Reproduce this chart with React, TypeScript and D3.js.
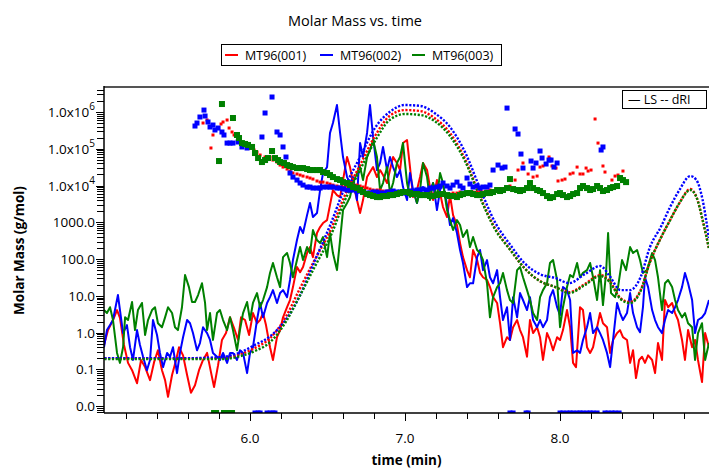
import React from 'react';
import * as d3 from 'd3';

const WIDTH = 709;
const HEIGHT = 470;
const PLOT = { left: 104, right: 709, top: 88, bottom: 413 };
const FONT = "'Open Sans', 'Noto Sans', sans-serif";

const TITLE = 'Molar Mass vs. time';
const X_LABEL = 'time (min)';
const Y_LABEL = 'Molar Mass (g/mol)';
const SERIES_NAMES = ['MT96(001)', 'MT96(002)', 'MT96(003)'];
const SERIES_COLORS = ['#ff0000', '#0000ff', '#008000'];
const MARKER_SIZES = [3, 5, 6];
const X_DOMAIN = [5.058, 8.961];
const Y_DOMAIN = [0.0065, 4.5e6];
const X_MAJOR_TICKS = [6.0, 7.0, 8.0];
const X_MINOR_TICKS = [5.2, 5.4, 5.6, 5.8, 6.2, 6.4, 6.6, 6.8, 7.2, 7.4, 7.6, 7.8, 8.2, 8.4, 8.6, 8.8];
const Y_MAJOR_TICKS = [0.01, 0.1, 1, 10, 100, 1000, 1e4, 1e5, 1e6];
const Y_TICK_TEXT = ['0.0', '0.1', '1.0', '10.0', '100.0', '1000.0', '1.0x10', '1.0x10', '1.0x10'];
const Y_TICK_EXP = ['', '', '', '', '', '', '4', '5', '6'];

// ---- LS (light scattering) traces ----
const lsTime001 = [5.058,5.084,5.116,5.142,5.161,5.187,5.213,5.239,5.271,5.297,5.323,5.355,5.381,5.406,5.432,5.452,5.471,5.497,5.523,5.542,5.568,5.594,5.619,5.645,5.671,5.697,5.723,5.748,5.768,5.794,5.819,5.845,5.871,5.897,5.923,5.942,5.968,5.994,6.019,6.045,6.065,6.084,6.103,6.129,6.148,6.174,6.194,6.213,6.239,6.258,6.277,6.303,6.323,6.342,6.368,6.387,6.406,6.432,6.452,6.471,6.497,6.516,6.535,6.561,6.581,6.600,6.626,6.645,6.665,6.690,6.710,6.729,6.755,6.774,6.794,6.819,6.839,6.858,6.884,6.903,6.923,6.948,6.968,6.987,7.013,7.032,7.052,7.077,7.097,7.116,7.142,7.161,7.181,7.206,7.226,7.245,7.271,7.290,7.310,7.335,7.355,7.374,7.400,7.419,7.439,7.465,7.484,7.503,7.529,7.548,7.568,7.594,7.613,7.632,7.658,7.677,7.697,7.723,7.742,7.761,7.787,7.806,7.826,7.852,7.871,7.890,7.916,7.935,7.955,7.981,8.000,8.019,8.045,8.065,8.084,8.103,8.129,8.148,8.174,8.194,8.213,8.239,8.258,8.277,8.303,8.323,8.342,8.368,8.387,8.406,8.432,8.452,8.471,8.490,8.510,8.529,8.548,8.568,8.594,8.613,8.632,8.658,8.677,8.697,8.723,8.742,8.761,8.787,8.806,8.826,8.852,8.871,8.890,8.916,8.936,8.961];
const lsValue001 = [0.46,1.17,2.2,4.1,2.5,0.46,0.15,0.095,0.042,0.18,0.115,0.051,0.157,0.33,0.095,0.051,0.018,0.07,0.18,0.40,0.24,0.07,0.023,0.037,0.095,0.18,0.28,0.084,0.033,0.13,0.63,0.97,2.6,1.33,0.63,2.6,2.2,0.86,3.4,1.8,2.2,3.4,1.6,0.40,0.18,0.75,1.17,2.6,4.9,7.7,17.3,61,44,61,146,212,113,510,743,955,1150,2950,7550,5500,4860,14100,59700,31800,11700,4030,1790,4030,17000,23300,31800,17000,26400,19300,11700,26400,59700,41000,26400,143000,173000,31800,4860,7550,17000,41000,26400,9100,4030,14100,6250,2600,1390,5500,1570,840,272,113,50,32,176,94,42,32,27,17.3,9.2,6.4,1.8,0.40,0.75,0.63,1.4,2.2,1.17,0.75,0.22,2.2,0.97,1.4,0.75,0.18,0.97,0.63,0.33,0.75,0.63,1.17,4.1,1.4,0.15,0.115,4.9,4.1,0.40,0.28,0.40,1.4,3.4,1.8,1.4,0.28,0.63,0.97,1.17,0.75,0.63,0.15,0.33,0.058,0.18,0.22,0.15,0.24,0.18,0.079,0.52,0.18,7.7,4.9,6.4,3.4,2.2,0.63,0.18,1.17,0.40,0.63,0.18,0.045,0.97,0.40];

const lsTime002 = [5.058,5.077,5.097,5.116,5.148,5.161,5.181,5.206,5.226,5.245,5.271,5.290,5.310,5.335,5.355,5.374,5.400,5.419,5.439,5.465,5.484,5.503,5.529,5.548,5.568,5.594,5.613,5.632,5.658,5.677,5.697,5.723,5.742,5.761,5.787,5.806,5.826,5.852,5.871,5.890,5.916,5.935,5.955,5.981,6.000,6.019,6.045,6.065,6.084,6.110,6.129,6.148,6.174,6.194,6.213,6.239,6.258,6.277,6.303,6.323,6.342,6.368,6.387,6.406,6.432,6.452,6.471,6.497,6.516,6.535,6.561,6.581,6.600,6.626,6.645,6.665,6.690,6.710,6.729,6.755,6.774,6.794,6.819,6.839,6.858,6.884,6.903,6.923,6.948,6.968,6.987,7.013,7.032,7.052,7.077,7.097,7.116,7.142,7.161,7.181,7.206,7.226,7.245,7.271,7.290,7.310,7.335,7.355,7.374,7.400,7.419,7.439,7.465,7.484,7.503,7.529,7.548,7.568,7.594,7.613,7.632,7.658,7.677,7.697,7.723,7.742,7.761,7.787,7.806,7.826,7.852,7.871,7.890,7.916,7.935,7.955,7.981,8.000,8.019,8.045,8.065,8.084,8.110,8.129,8.148,8.174,8.194,8.213,8.239,8.258,8.277,8.303,8.323,8.342,8.368,8.387,8.406,8.432,8.452,8.471,8.497,8.516,8.535,8.548,8.568,8.594,8.613,8.632,8.658,8.677,8.697,8.723,8.742,8.761,8.787,8.806,8.826,8.852,8.871,8.890,8.916,8.936,8.961];
const lsValue002 = [0.40,1.17,1.6,2.2,10.5,4.1,0.97,1.6,0.40,0.18,1.17,0.46,0.22,0.095,0.18,2.2,0.86,0.28,0.115,0.28,0.22,0.40,0.079,0.28,0.75,2.2,1.8,0.97,0.33,0.52,1.4,0.97,0.63,0.28,0.22,0.18,0.28,0.15,0.28,0.28,0.18,0.33,0.28,0.079,0.28,0.40,2.2,6.4,2.6,6.4,9.2,14.3,6.4,11.9,14.3,9.2,27,94,329,743,510,1570,3340,1390,1790,7550,21900,31800,269000,502000,1550000,269000,59700,17000,11700,17000,4030,143000,59700,269000,1550000,209000,26400,41000,112000,26400,59700,31800,17000,26400,9100,4030,21900,7550,3340,7550,9100,4860,7550,11700,2150,7550,11700,2950,840,1300,510,176,78,17.3,22,22,113,176,50,94,32,22,50,9.2,2.2,4.9,0.63,9.2,2.6,11.9,7.7,4.1,9.2,2.2,1.4,2.2,1.4,2.2,9.2,14.3,4.9,3.0,17.3,14.3,7.7,0.28,0.33,0.28,0.63,1.4,3.4,0.97,1.4,0.97,0.63,0.28,0.115,0.63,6.4,3.4,2.2,3.4,11.9,3.4,1.4,1.03,4.9,32,17.3,4.1,2.2,1.4,0.97,2.2,4.1,3.4,4.9,7.7,17.3,42,22,7.7,0.97,2.2,2.6,3.4,7.7];

const lsTime003 = [5.058,5.077,5.097,5.116,5.142,5.161,5.181,5.194,5.213,5.239,5.258,5.277,5.303,5.323,5.342,5.368,5.387,5.406,5.432,5.452,5.471,5.497,5.516,5.535,5.561,5.581,5.606,5.626,5.645,5.665,5.690,5.710,5.723,5.742,5.761,5.787,5.806,5.826,5.852,5.871,5.890,5.916,5.935,5.955,5.981,6.000,6.019,6.045,6.065,6.084,6.110,6.129,6.148,6.174,6.194,6.213,6.239,6.258,6.277,6.303,6.323,6.342,6.368,6.387,6.406,6.432,6.452,6.471,6.497,6.516,6.535,6.561,6.581,6.600,6.626,6.645,6.665,6.690,6.710,6.729,6.755,6.774,6.794,6.819,6.839,6.858,6.884,6.903,6.923,6.948,6.968,6.987,7.013,7.032,7.052,7.077,7.097,7.116,7.142,7.161,7.181,7.206,7.226,7.245,7.271,7.290,7.310,7.335,7.355,7.374,7.400,7.419,7.439,7.465,7.484,7.503,7.529,7.548,7.568,7.594,7.613,7.632,7.658,7.677,7.697,7.723,7.742,7.761,7.787,7.806,7.826,7.852,7.871,7.890,7.916,7.935,7.955,7.981,8.000,8.019,8.045,8.065,8.084,8.110,8.129,8.148,8.174,8.194,8.213,8.239,8.258,8.277,8.297,8.310,8.329,8.355,8.374,8.400,8.426,8.452,8.471,8.497,8.516,8.535,8.561,8.594,8.613,8.632,8.658,8.677,8.697,8.723,8.742,8.761,8.787,8.806,8.826,8.852,8.871,8.890,8.916,8.936,8.961];
const lsValue003 = [4.1,3.4,4.9,2.2,0.28,0.15,0.40,2.6,2.2,6.8,1.17,4.1,6.4,0.86,2.2,4.1,4.9,1.8,1.4,2.6,4.9,3.4,1.4,1.17,4.9,37,17.3,6.8,6.8,10.5,22,6.4,1.17,3.4,0.63,3.4,4.1,2.2,1.17,2.6,1.17,0.33,1.17,3.4,6.8,2.2,6.4,11.9,4.9,7.7,17.3,42,78,32,17.3,113,146,78,32,94,212,94,212,146,615,329,272,397,113,510,146,50,329,2150,3340,4860,11700,21900,31800,14100,59700,92500,173000,59700,7550,11700,31800,6250,11700,41000,59700,143000,11700,4860,7550,3340,7550,41000,17000,4030,11700,4860,21900,11700,2150,1150,615,1150,840,397,615,212,397,176,146,94,22,2.6,9.2,17.3,22,42,14.3,7.7,6.4,50,61,32,14.3,7.7,3.4,2.2,9.2,14.3,22,78,94,27,1.4,4.9,17.3,37,32,78,32,42,50,78,32,7.7,50,5.6,42,510,11.9,9.2,17.3,94,50,212,146,176,94,42,50,146,94,32,4.1,22,27,17.3,7.7,4.1,2.6,3.4,1.8,1.4,0.18,0.97,1.8,0.18,0.52];

// ---- dRI traces (shown on the molar mass axis) ----
const driTime = [5.06,5.23,5.42,5.61,5.81,5.94,6.03,6.13,6.23,6.32,6.42,6.52,6.61,6.71,6.81,6.90,7.00,7.10,7.19,7.29,7.39,7.48,7.58,7.68,7.77,7.87,7.97,8.06,8.16,8.26,8.32,8.39,8.45,8.52,8.58,8.65,8.71,8.77,8.84,8.88,8.92,8.96];
const driValue001 = [0.202,0.202,0.202,0.202,0.202,0.26,0.378,0.71,2.64,15.3,100,615,5180,36100,237000,778000,1130000,1060000,687000,269000,49400,5510,698,176,56.9,25.2,17.3,12.6,20.9,36.7,25.2,8.7,6.76,14.3,82.8,373,1150,3340,8030,4860,1150,199];
const driValue002 = [0.202,0.202,0.202,0.202,0.215,0.294,0.457,0.80,2.19,9.8,94,896,8550,59700,391000,1000000,1550000,1460000,940000,391000,76600,9100,1016,240,77.8,39.1,30.4,22.2,39.1,64.5,34.5,14.3,14.3,32.4,212,743,2600,7550,18100,14100,4030,373];
const driValue003 = [0.19,0.19,0.19,0.19,0.19,0.23,0.314,0.55,1.93,9.8,64.5,423,3790,26400,173000,606000,883000,828000,569000,222000,43600,5180,655,176,56.9,25.2,17.3,11.9,19.6,34.5,23.7,8.2,6.35,13.5,82.8,373,1150,3340,7550,4860,1150,199];

// ---- Molar mass points (0 = no valid result, drawn on the bottom axis) ----
const mmTime001 = [5.697,5.723,5.748,5.761,5.813,5.826,5.852,5.865,5.884,5.897,5.923,5.948,5.974,6.000,6.026,6.045,6.065,6.097,6.129,6.148,6.174,6.194,6.213,6.239,6.258,6.277,6.303,6.323,6.342,6.368,6.387,6.406,6.432,6.452,6.471,6.497,6.516,6.535,6.561,6.581,6.600,6.626,6.645,6.665,6.690,6.710,6.729,6.755,6.774,6.794,6.819,6.839,6.858,6.884,6.903,6.923,6.948,6.968,6.987,7.013,7.032,7.052,7.077,7.097,7.116,7.142,7.161,7.181,7.206,7.226,7.245,7.271,7.290,7.310,7.335,7.355,7.374,7.400,7.419,7.439,7.465,7.484,7.503,7.529,7.548,7.568,7.594,7.613,7.632,7.658,7.677,7.710,7.729,7.761,7.794,7.826,7.852,7.871,7.890,7.929,7.948,7.974,7.987,8.013,8.032,8.065,8.084,8.110,8.129,8.148,8.168,8.181,8.200,8.226,8.245,8.277,8.290,8.335,8.355,8.374,8.406];
const mmValue001 = [502000,606000,105000,237000,472000,535000,606000,367000,286000,237000,196000,153000,127000,105000,92500,81600,67600,59700,59700,49400,43600,36100,31800,28100,24800,21900,20600,19300,18100,17000,16000,15000,13300,12400,12400,11700,11000,10300,9700,9100,9100,9700,9700,10300,10300,9700,9100,8550,8030,7550,7550,7550,7090,7090,7090,6660,6660,6660,6250,6250,6250,5870,5870,5870,5870,5510,5510,5870,5870,6250,5870,5510,5870,6250,6250,6660,6250,5870,6250,6660,6660,7090,6660,7090,7550,7090,7550,8030,8030,8550,9700,14100,26400,41000,20600,17000,18100,31800,34000,59700,34000,29900,13300,14100,15000,20600,21900,31800,20600,20600,29900,24800,26400,646000,143000,34000,23300,14100,18100,19300,24800];

const mmTime002 = [5.645,5.658,5.677,5.703,5.710,5.729,5.742,5.761,5.774,5.794,5.819,5.832,5.852,5.871,5.890,5.923,5.948,5.981,6.032,6.052,6.065,6.077,6.097,6.110,6.129,6.142,6.148,6.161,6.174,6.194,6.213,6.232,6.258,6.277,6.303,6.323,6.342,6.368,6.387,6.406,6.432,6.452,6.471,6.497,6.516,6.535,6.561,6.581,6.600,6.626,6.645,6.665,6.690,6.710,6.729,6.755,6.774,6.794,6.819,6.839,6.858,6.884,6.903,6.923,6.948,6.968,6.987,7.013,7.032,7.052,7.077,7.097,7.116,7.142,7.161,7.181,7.206,7.226,7.245,7.271,7.290,7.310,7.335,7.355,7.374,7.400,7.419,7.439,7.465,7.484,7.503,7.529,7.548,7.568,7.600,7.626,7.645,7.658,7.677,7.697,7.710,7.729,7.748,7.761,7.781,7.794,7.813,7.826,7.845,7.871,7.884,7.910,7.929,7.942,7.961,7.981,8.000,8.019,8.045,8.065,8.084,8.110,8.129,8.148,8.174,8.194,8.213,8.239,8.265,8.277,8.290,8.310,8.335,8.355,8.381];
const mmValue002 = [416000,502000,731000,1130000,778000,535000,391000,443000,324000,367000,286000,237000,143000,143000,143000,153000,112000,105000,0,0,0,209000,940000,0,0,2560000,0,0,286000,237000,112000,59700,21900,17000,14100,11700,10300,9100,9100,8550,8550,8550,9100,9100,9100,9100,8550,8550,8030,7550,7550,7550,7090,7090,6660,6250,6250,6660,6660,6250,6250,6660,6660,7090,6660,6660,6250,6660,7090,7090,7550,7550,8030,7550,8550,8550,9100,9700,11700,9700,8550,10300,12400,9700,8550,16000,11000,9100,9700,8550,9100,9100,10300,26400,36100,29900,31800,1280000,0,0,345000,252000,71900,29900,0,0,46400,29900,41000,86900,56000,38500,49400,49400,31800,41000,0,0,0,0,0,0,0,0,0,0,0,0,92500,112000,0,0,0,0,0];

const mmTime003 = [5.768,5.781,5.800,5.819,5.832,5.852,5.871,5.884,5.890,5.916,5.929,5.948,5.968,5.987,6.013,6.032,6.052,6.077,6.097,6.116,6.142,6.161,6.181,6.194,6.219,6.239,6.258,6.277,6.303,6.323,6.342,6.368,6.387,6.406,6.432,6.452,6.471,6.497,6.516,6.535,6.561,6.581,6.600,6.626,6.645,6.665,6.690,6.710,6.729,6.755,6.774,6.794,6.819,6.839,6.858,6.884,6.903,6.923,6.948,6.968,6.987,7.013,7.032,7.052,7.077,7.097,7.116,7.142,7.161,7.181,7.206,7.226,7.245,7.271,7.290,7.310,7.335,7.355,7.374,7.400,7.419,7.439,7.465,7.484,7.503,7.529,7.548,7.568,7.594,7.613,7.632,7.658,7.677,7.697,7.723,7.742,7.761,7.787,7.806,7.826,7.852,7.871,7.890,7.916,7.935,7.955,7.981,8.000,8.019,8.045,8.065,8.084,8.110,8.129,8.148,8.174,8.194,8.213,8.239,8.258,8.277,8.303,8.323,8.342,8.368,8.387,8.406,8.426];
const mmValue003 = [0,0,46400,1650000,0,0,0,0,687000,237000,196000,143000,135000,127000,112000,76600,56000,43600,49400,56000,86900,56000,49400,43600,41000,36100,34000,31800,29900,29900,29900,28100,26400,26400,26400,26400,23300,21900,19300,17000,15000,14100,12400,11700,10300,9100,8550,7550,6660,5870,5510,5180,4860,4860,5180,5180,5510,5510,5870,6250,6660,6660,6250,5870,5870,5510,5510,5510,5180,5180,5510,5870,5870,5510,5180,5180,4860,5510,5870,6250,6250,5870,5510,5510,5870,6250,6250,6660,7550,7090,7550,8550,15000,8030,7550,7090,7550,8550,11700,8550,7550,7090,6250,5180,4570,4860,5870,6250,5510,4860,5180,5870,6250,8550,9700,8550,7550,8030,9700,8550,7090,7550,8550,9100,9700,16000,14100,12400];

const SERIES = [
  { name: SERIES_NAMES[0], color: SERIES_COLORS[0], size: MARKER_SIZES[0], lsT: lsTime001, lsV: lsValue001, driV: driValue001, mmT: mmTime001, mmV: mmValue001 },
  { name: SERIES_NAMES[1], color: SERIES_COLORS[1], size: MARKER_SIZES[1], lsT: lsTime002, lsV: lsValue002, driV: driValue002, mmT: mmTime002, mmV: mmValue002 },
  { name: SERIES_NAMES[2], color: SERIES_COLORS[2], size: MARKER_SIZES[2], lsT: lsTime003, lsV: lsValue003, driV: driValue003, mmT: mmTime003, mmV: mmValue003 },
];

export default function App() {
  const x = d3.scaleLinear().domain(X_DOMAIN).range([PLOT.left, PLOT.right]);
  const y = d3.scaleLog().domain(Y_DOMAIN).range([PLOT.bottom, PLOT.top]);
  const yv = (v: number) => (v > 0 ? y(v) : PLOT.bottom);

  const yMinor: number[] = [];
  for (let e = -3; e <= 6; e++) {
    for (let k = 2; k <= 9; k++) {
      const v = k * Math.pow(10, e);
      if (v >= Y_DOMAIN[0] && v <= Y_DOMAIN[1]) yMinor.push(v);
    }
  }

  const lineFor = (t: number[], v: number[], curve = d3.curveLinear) =>
    d3.line<number>().x((d) => x(t[d])).y((d) => yv(v[d])).curve(curve)(d3.range(t.length)) || '';

  return (
    <svg width={WIDTH} height={HEIGHT} style={{ position: 'absolute', left: 0, top: 0, display: 'block', background: '#fff' }} fontFamily={FONT}>
      <defs>
        <clipPath id="plotClip">
          <rect x={PLOT.left} y={PLOT.top} width={PLOT.right - PLOT.left} height={PLOT.bottom - PLOT.top} />
        </clipPath>
      </defs>
      <rect x={0} y={0} width={WIDTH} height={HEIGHT} fill="#fff" />

      <text x={355} y={26} textAnchor="middle" fontSize={14.5} fill="#000">{TITLE}</text>

      {/* series legend */}
      <rect x={221.5} y={44.5} width={280} height={21} fill="#fff" stroke="#000" strokeWidth={1} />
      {SERIES.map((s, i) => {
        const lx = [225, 320, 412][i];
        return (
          <g key={s.name}>
            <line x1={lx} x2={lx + 13} y1={55} y2={55} stroke={s.color} strokeWidth={2} />
            <text x={lx + 20} y={59.5} fontSize={12.5} fill="#000">{s.name}</text>
          </g>
        );
      })}

      <g clipPath="url(#plotClip)">
        {SERIES.map((s) => (
          <path key={'ls' + s.name} d={lineFor(s.lsT, s.lsV)} fill="none" stroke={s.color} strokeWidth={2} strokeLinejoin="round" />
        ))}
        {SERIES.map((s) => (
          <path key={'dri' + s.name} d={lineFor(driTime, s.driV, d3.curveMonotoneX)} fill="none" stroke={s.color} strokeWidth={2.4} strokeDasharray="2.2 1.6" />
        ))}
        {SERIES.map((s) => (
          <g key={'mm' + s.name} fill={s.color}>
            {s.mmT.map((t, i) => (
              <rect key={i} x={x(t) - s.size / 2} y={yv(s.mmV[i]) - s.size / 2} width={s.size} height={s.size} />
            ))}
          </g>
        ))}
      </g>

      {/* frame */}
      <line x1={PLOT.left} x2={PLOT.right} y1={PLOT.top - 1} y2={PLOT.top - 1} stroke="#555" strokeWidth={2} />
      <line x1={PLOT.left} x2={PLOT.left} y1={PLOT.top - 2} y2={PLOT.bottom} stroke="#000" strokeWidth={1.5} />
      <line x1={PLOT.left} x2={PLOT.right} y1={PLOT.bottom} y2={PLOT.bottom} stroke="#000" strokeWidth={1.5} />

      {/* LS / dRI key */}
      <rect x={622.5} y={90.5} width={84} height={18} fill="#fff" stroke="#000" strokeWidth={1} />
      <text x={628} y={104} fontSize={12.5} fill="#000">— LS -- dRI</text>

      {/* y axis */}
      {yMinor.map((v) => (
        <line key={'ym' + v} x1={PLOT.left - 7} x2={PLOT.left} y1={Math.round(y(v)) + 0.5} y2={Math.round(y(v)) + 0.5} stroke="#000" strokeWidth={1} />
      ))}
      {Y_MAJOR_TICKS.map((v, i) => (
        <g key={'yM' + v}>
          <line x1={PLOT.left - 8} x2={PLOT.left} y1={Math.round(y(v)) + 0.5} y2={Math.round(y(v)) + 0.5} stroke="#000" strokeWidth={1} />
          <text x={95} y={y(v) + 5} textAnchor="end" fontSize={13.5} fill="#000">
            {Y_TICK_TEXT[i]}
            {Y_TICK_EXP[i] ? <tspan dy={-7} fontSize={10}>{Y_TICK_EXP[i]}</tspan> : null}
          </text>
        </g>
      ))}
      <text transform={`translate(24,${(PLOT.top + PLOT.bottom) / 2}) rotate(-90)`} textAnchor="middle" fontSize={13.5} fontWeight="bold" fill="#000">{Y_LABEL}</text>

      {/* x axis */}
      {X_MINOR_TICKS.map((t) => (
        <line key={'xm' + t} x1={Math.round(x(t)) + 0.5} x2={Math.round(x(t)) + 0.5} y1={PLOT.bottom} y2={PLOT.bottom + 6} stroke="#000" strokeWidth={1} />
      ))}
      {X_MAJOR_TICKS.map((t) => (
        <g key={'xM' + t}>
          <line x1={Math.round(x(t)) + 0.5} x2={Math.round(x(t)) + 0.5} y1={PLOT.bottom} y2={PLOT.bottom + 8} stroke="#000" strokeWidth={1} />
          <text x={x(t)} y={443} textAnchor="middle" fontSize={13.5} fill="#000">{t.toFixed(1)}</text>
        </g>
      ))}
      <text x={(PLOT.left + PLOT.right) / 2} y={465} textAnchor="middle" fontSize={13.5} fontWeight="bold" fill="#000">{X_LABEL}</text>
    </svg>
  );
}
